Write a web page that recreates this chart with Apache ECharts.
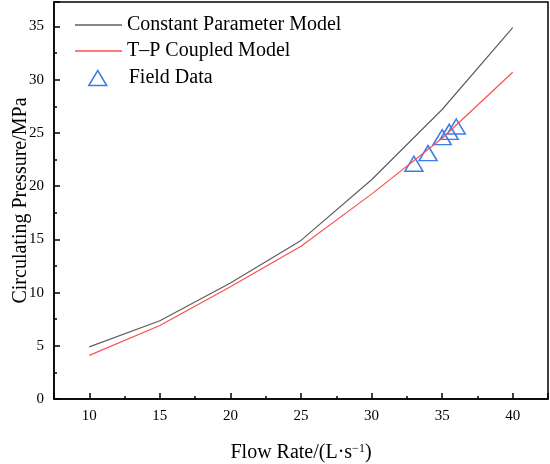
<!DOCTYPE html>
<html>
<head>
<meta charset="utf-8">
<script src="https://cdn.jsdelivr.net/npm/echarts@6/dist/echarts.min.js"></script>
<style>
  html, body { margin: 0; padding: 0; background: #fff; }
  #main { width: 550px; height: 464px; }
</style>
</head>
<body>
<div id="main"></div>
<script>
var flowRates = [10, 15, 20, 25, 30, 35, 40];
var constantModel = [4.9, 7.35, 10.9, 14.9, 20.6, 27.2, 34.9];
var coupledModel = [4.1, 6.9, 10.55, 14.35, 19.25, 24.5, 30.7];
var fieldRates = [33, 34, 35, 35.5, 36];
var fieldPressures = [22.1, 23.1, 24.6, 25.1, 25.6];

var font = 'Liberation Serif';
var blue = '#3a7de6';
var gray = '#5f5f5f';
var red = '#ff4f4f';

function pairs(xs, ys) {
    return xs.map(function (x, i) {
        return [x, ys[i]];
    });
}

var dom = document.getElementById('main');
var myChart = echarts.init(dom, null, { renderer: 'canvas' });

var option = {
    animation: false,
    grid: {
        left: 54,
        right: 2,
        top: 2,
        bottom: 65,
        outerBoundsMode: 'none',
        containLabel: false,
        show: true,
        borderColor: '#000',
        borderWidth: 1.5
    },
    legend: [
        {
            orient: 'vertical',
            left: 75,
            top: 15,
            padding: 0,
            itemWidth: 47,
            itemHeight: 1.5,
            itemGap: 6,
            textStyle: { fontFamily: font, fontSize: 20, color: '#000' },
            data: [
                { name: 'Constant Parameter Model', icon: 'rect', itemStyle: { color: gray } },
                { name: 'T\u2013P Coupled Model', icon: 'rect', itemStyle: { color: red } }
            ]
        },
        {
            left: 88,
            top: 68,
            padding: 0,
            itemWidth: 18,
            itemHeight: 15,
            textStyle: { fontFamily: font, fontSize: 20, color: '#000', padding: [0, 0, 0, 17] },
            data: [{
                name: 'Field Data',
                icon: 'triangle',
                itemStyle: { color: 'rgba(0,0,0,0)', borderColor: blue, borderWidth: 1.5 }
            }]
        }
    ],
    xAxis: {
        type: 'value',
        min: 7.5,
        max: 42.5,
        splitNumber: 7,
        name: 'Flow Rate/(L\u00b7s{sup|\u22121})',
        nameLocation: 'middle',
        nameGap: 44,
        nameMoveOverlap: false,
        nameTextStyle: {
            fontFamily: font,
            fontSize: 20,
            color: '#000',
            rich: {
                sup: { fontFamily: font, fontSize: 12, lineHeight: 12, verticalAlign: 'top', color: '#000' }
            }
        },
        axisLine: { lineStyle: { color: '#000', width: 1.5 } },
        axisTick: { inside: true, length: 6, lineStyle: { color: '#000', width: 1.5 } },
        minorTick: { show: true, splitNumber: 2, length: 3, lineStyle: { color: '#000', width: 1.5 } },
        axisLabel: {
            showMinLabel: false,
            showMaxLabel: false,
            margin: 10,
            fontFamily: font,
            fontSize: 15,
            color: '#000'
        },
        splitLine: { show: false }
    },
    yAxis: {
        type: 'value',
        min: 0,
        max: 37.3,
        interval: 5,
        name: 'Circulating Pressure/MPa',
        nameLocation: 'middle',
        nameGap: 23,
        nameMoveOverlap: false,
        nameTextStyle: { fontFamily: font, fontSize: 20, color: '#000' },
        axisLine: { show: true, lineStyle: { color: '#000', width: 1.5 } },
        axisTick: { show: true, inside: true, length: 6, lineStyle: { color: '#000', width: 1.5 } },
        minorTick: { show: true, splitNumber: 2, length: 3, lineStyle: { color: '#000', width: 1.5 } },
        axisLabel: {
            showMaxLabel: false,
            margin: 10,
            fontFamily: font,
            fontSize: 15,
            color: '#000'
        },
        splitLine: { show: false }
    },
    series: [
        {
            name: 'Constant Parameter Model',
            type: 'line',
            symbol: 'none',
            lineStyle: { color: gray, width: 1.2 },
            itemStyle: { color: gray },
            data: pairs(flowRates, constantModel)
        },
        {
            name: 'T\u2013P Coupled Model',
            type: 'line',
            symbol: 'none',
            lineStyle: { color: red, width: 1.2 },
            itemStyle: { color: red },
            data: pairs(flowRates, coupledModel)
        },
        {
            name: 'Field Data',
            type: 'scatter',
            symbol: 'triangle',
            symbolSize: [18, 15],
            itemStyle: { color: 'rgba(0,0,0,0)', borderColor: blue, borderWidth: 1.5, opacity: 1 },
            data: pairs(fieldRates, fieldPressures)
        }
    ]
};

myChart.setOption(option);
window.addEventListener('resize', myChart.resize);
</script>
</body>
</html>
